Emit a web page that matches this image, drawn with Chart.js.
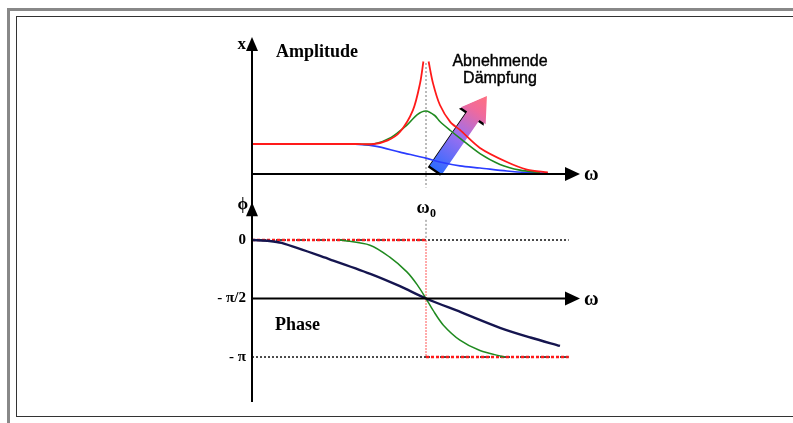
<!DOCTYPE html>
<html>
<head>
<meta charset="utf-8">
<script src="https://cdn.jsdelivr.net/npm/chart.js@4"></script>
<style>
  body { margin: 0; background: #fff; }
  canvas { display: block; }
</style>
</head>
<body>
<canvas id="resonanceChart" width="793" height="423"></canvas>
<script>
// ω is given in units of ω0, amplitude in units of the static amplitude
const redAmpW = [0, 0.3, 0.6, 0.7, 0.78, 0.85, 0.925, 0.966, 0.985, 1, 1.015, 1.04, 1.08, 1.14, 1.195, 1.31, 1.465, 1.58, 1.7];
const redAmpX = [1, 1, 1, 1, 1.12, 1.4, 2.13, 3.03, 3.75, null, 3.75, 3.03, 2.3, 1.73, 1.47, 0.87, 0.4, 0.15, 0.05];

const greenAmpW = [0, 0.6, 0.7, 0.8, 0.89, 0.95, 1, 1.05, 1.08, 1.14, 1.2, 1.31, 1.425, 1.54, 1.655];
const greenAmpX = [1, 1, 1, 1.22, 1.63, 1.98, 2.1, 1.95, 1.75, 1.45, 1.17, 0.68, 0.32, 0.13, 0.05];

const blueAmpW = [0, 0.55, 0.707, 0.85, 1, 1.08, 1.195, 1.31, 1.465, 1.58, 1.7];
const blueAmpX = [1, 1, 0.93, 0.73, 0.53, 0.4, 0.27, 0.2, 0.1, 0.05, 0.03];

// phase in degrees
const navyPhaseW = [0, 0.1, 0.17, 0.45, 0.68, 0.85, 1, 1.2, 1.425, 1.6, 1.77];
const navyPhase = [0, -1.5, -4.5, -30, -52, -71, -90, -111, -135, -150, -163];

const greenPhaseW = [0.506, 0.678, 0.79, 0.89, 0.95, 1, 1.04, 1.1, 1.195, 1.31, 1.45];
const greenPhase = [0, -8, -26, -49, -69, -90, -108, -131, -154, -170, -180];

const redPhaseW = [0, 1, 1, 1.82];
const redPhase = [0, 0, -180, -180];

const phaseTicks = [0, -90, -180];
const phaseTickLabels = ['0', '- π/2', '- π'];
const guideEnd = 1.82;

function pts(ws, vs) {
  return ws.map((w, i) => ({ x: w, y: vs[i] }));
}

const serif = '"Liberation Serif", "Times New Roman", serif';
const sans = '"Liberation Sans", Arial, sans-serif';

const diagram = {
  id: 'diagram',
  beforeDraw(chart) {
    const c = chart.ctx;
    c.save();
    c.fillStyle = '#fff';
    c.fillRect(0, 0, chart.width, chart.height);
    // frame
    c.strokeStyle = '#888';
    c.lineWidth = 3;
    c.beginPath();
    c.moveTo(8.5, chart.height + 5);
    c.lineTo(8.5, 9.5);
    c.lineTo(chart.width + 5, 9.5);
    c.stroke();
    c.strokeStyle = '#333';
    c.lineWidth = 1;
    c.strokeRect(16.5, 16.5, chart.width + 10, 400);
    c.restore();
  },
  beforeDatasetsDraw(chart) {
    const c = chart.ctx;
    const x = chart.scales.x, ya = chart.scales.yA, yp = chart.scales.yP;
    c.save();
    // dotted guides in phase panel
    c.strokeStyle = '#111';
    c.lineWidth = 1.5;
    c.setLineDash([2, 2]);
    [0, -180].forEach(v => {
      c.beginPath();
      c.moveTo(x.getPixelForValue(0), yp.getPixelForValue(v));
      c.lineTo(x.getPixelForValue(guideEnd), yp.getPixelForValue(v));
      c.stroke();
    });
    // ω0 marker
    const x0 = x.getPixelForValue(1);
    c.strokeStyle = '#777';
    c.lineWidth = 1;
    c.setLineDash([2, 2]);
    c.beginPath();
    c.moveTo(x0, ya.getPixelForValue(3.7));
    c.lineTo(x0, ya.getPixelForValue(-0.45));
    c.moveTo(x0, yp.getPixelForValue(31));
    c.lineTo(x0, yp.getPixelForValue(0));
    c.stroke();
    c.setLineDash([]);

    // "abnehmende Dämpfung" arrow
    const bx = x.getPixelForValue(1.057), by = ya.getPixelForValue(0.13);
    const tx = x.getPixelForValue(1.35), ty = ya.getPixelForValue(2.6);
    const len = Math.hypot(tx - bx, ty - by);
    const ux = (tx - bx) / len, uy = (ty - by) / len;
    const nx = -uy, ny = ux;
    const sw = 7.5, hw = 15, hl = 24;
    const hx = tx - ux * hl, hy = ty - uy * hl;
    const shape = [
      [bx + nx * sw, by + ny * sw],
      [hx + nx * sw, hy + ny * sw],
      [hx + nx * hw, hy + ny * hw],
      [tx, ty],
      [hx - nx * hw, hy - ny * hw],
      [hx - nx * sw, hy - ny * sw],
      [bx - nx * sw, by - ny * sw]
    ];
    const path = (dx, dy) => {
      c.beginPath();
      shape.forEach((p, i) => i ? c.lineTo(p[0] + dx, p[1] + dy) : c.moveTo(p[0] + dx, p[1] + dy));
      c.closePath();
    };
    c.fillStyle = '#000';
    path(-2, 1.5);
    c.fill();
    const g = c.createLinearGradient(bx, by, tx, ty);
    g.addColorStop(0, '#2f6bff');
    g.addColorStop(0.45, '#9a6ff0');
    g.addColorStop(0.8, '#f06a9c');
    g.addColorStop(1, '#ff7080');
    c.fillStyle = g;
    path(0, 0);
    c.fill();
    c.restore();
  },
  afterDatasetsDraw(chart) {
    const c = chart.ctx;
    const x = chart.scales.x, ya = chart.scales.yA, yp = chart.scales.yP;
    const area = chart.chartArea;
    const left = x.getPixelForValue(0);
    c.save();
    c.strokeStyle = '#000';
    c.fillStyle = '#000';
    c.lineWidth = 2;
    // vertical axis
    c.beginPath();
    c.moveTo(left, area.top + 6);
    c.lineTo(left, area.bottom);
    c.stroke();
    const upArrow = (px, py) => {
      c.beginPath();
      c.moveTo(px, py);
      c.lineTo(px - 6, py + 14);
      c.lineTo(px + 6, py + 14);
      c.closePath();
      c.fill();
    };
    const rightArrow = (px, py) => {
      c.beginPath();
      c.moveTo(px, py);
      c.lineTo(px - 15, py - 7);
      c.lineTo(px - 15, py + 7);
      c.closePath();
      c.fill();
    };
    upArrow(left, area.top);
    upArrow(left, yp.getPixelForValue(58));
    [ya.getPixelForValue(0), yp.getPixelForValue(-90)].forEach(py => {
      c.beginPath();
      c.moveTo(left, py);
      c.lineTo(area.right - 10, py);
      c.stroke();
      rightArrow(area.right, py);
    });

    // labels
    c.textBaseline = 'alphabetic';
    c.font = 'bold 18px ' + serif;
    c.textAlign = 'left';
    c.fillText('Amplitude', left + 24, ya.getPixelForValue(3.9));
    c.fillText('Phase', left + 23, yp.getPixelForValue(-139));
    c.font = 'bold 17px ' + serif;
    c.textAlign = 'right';
    c.fillText('x', left - 6, ya.getPixelForValue(4.17));
    c.fillText('ϕ', left - 4, yp.getPixelForValue(48));
    c.textAlign = 'left';
    c.font = 'bold 20px ' + serif;
    [ya.getPixelForValue(0), yp.getPixelForValue(-90)].forEach(py => {
      c.fillText('ω', area.right + 4, py + 6);
    });
    // ω0
    const x0 = x.getPixelForValue(1);
    c.font = 'bold 18px ' + serif;
    c.textAlign = 'center';
    c.fillText('ω', x0 - 3, yp.getPixelForValue(41));
    c.font = 'bold 12px ' + serif;
    c.fillText('0', x0 + 7, yp.getPixelForValue(36));
    // phase ticks
    c.font = 'bold 15px ' + serif;
    c.textAlign = 'right';
    c.textBaseline = 'middle';
    phaseTicks.forEach((v, i) => {
      c.fillText(phaseTickLabels[i], left - 6, yp.getPixelForValue(v));
    });
    // annotation text
    c.font = '16px ' + sans;
    c.textAlign = 'center';
    c.lineWidth = 0.4;
    c.strokeStyle = '#000';
    ['Abnehmende', 'Dämpfung'].forEach((t, i) => {
      c.fillText(t, 500, 62 + i * 17);
      c.strokeText(t, 500, 62 + i * 17);
    });
    c.restore();
  }
};

const ctx = document.getElementById('resonanceChart');

new Chart(ctx, {
  type: 'line',
  data: {
    datasets: [
      { data: pts(redAmpW, redAmpX), yAxisID: 'yA', borderColor: '#ff1a1a', borderWidth: 1.8, order: 1 },
      { data: pts(greenAmpW, greenAmpX), yAxisID: 'yA', borderColor: '#1f8a1f', borderWidth: 1.6, order: 2 },
      { data: pts(blueAmpW, blueAmpX), yAxisID: 'yA', borderColor: '#2a3cff', borderWidth: 1.6, order: 3 },
      { data: pts(navyPhaseW, navyPhase), yAxisID: 'yP', borderColor: '#15154f', borderWidth: 2.4, order: 4 },
      { data: pts(greenPhaseW, greenPhase), yAxisID: 'yP', borderColor: '#1f8a1f', borderWidth: 1.5, order: 5 },
      {
        data: pts(redPhaseW, redPhase), yAxisID: 'yP', borderColor: '#ff1a1a', borderWidth: 2.4,
        borderDash: [3, 2], tension: 0, order: 6,
        segment: {
          borderWidth: s => s.p0.parsed.x === s.p1.parsed.x ? 1.2 : 2.4,
          borderColor: s => s.p0.parsed.x === s.p1.parsed.x ? 'rgba(255,80,80,0.8)' : '#ff1a1a',
          borderDash: s => s.p0.parsed.x === s.p1.parsed.x ? [2, 1] : [3, 2]
        }
      }
    ]
  },
  options: {
    responsive: false,
    animation: false,
    spanGaps: false,
    layout: { padding: { left: 252, top: 37, right: 213, bottom: 21 } },
    elements: {
      point: { radius: 0 },
      line: { tension: 0.3 }
    },
    plugins: { legend: { display: false }, tooltip: { enabled: false } },
    scales: {
      x: { type: 'linear', min: 0, max: 1.885, display: false },
      yA: { type: 'linear', min: -7.6, max: 4.567, display: false },
      yP: { type: 'linear', min: -249.2, max: 312.3, display: false }
    }
  },
  plugins: [diagram]
});
</script>
</body>
</html>
